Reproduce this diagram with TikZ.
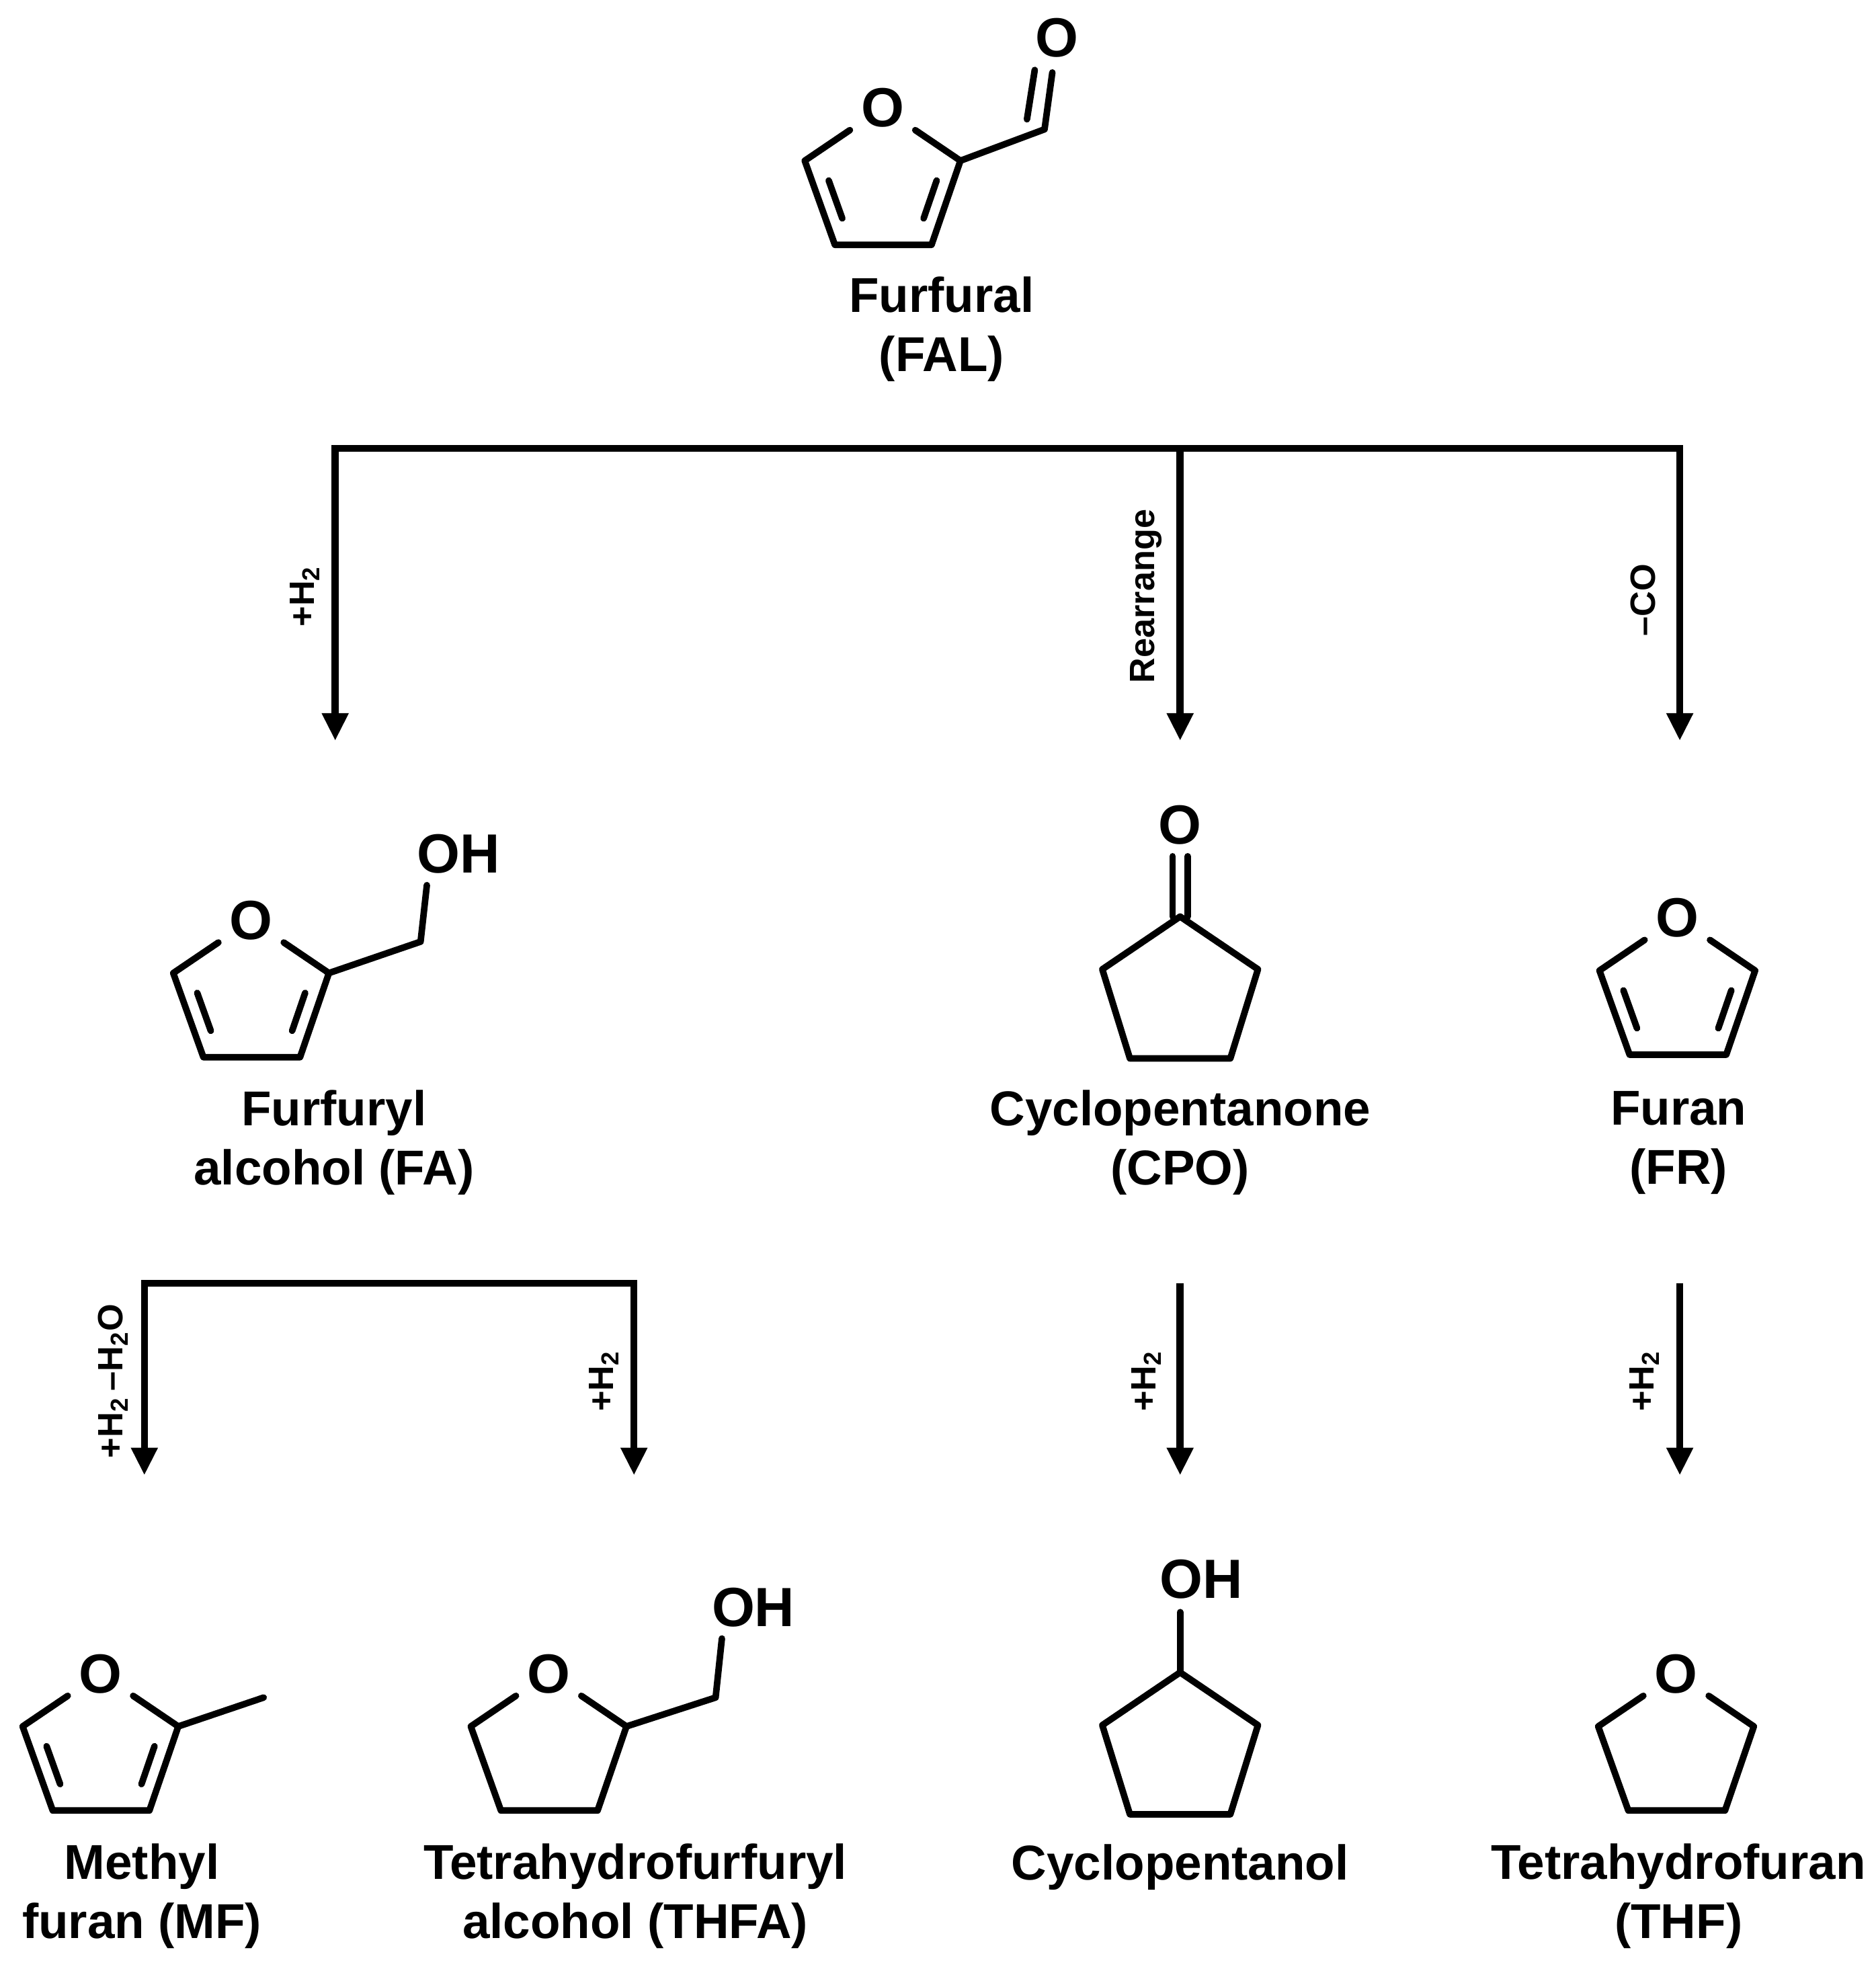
\documentclass[tikz,border=0pt]{standalone}
\usepackage{fontspec}
\setmainfont{Liberation Sans}
\usetikzlibrary{calc,arrows.meta}
\begin{document}
\begin{tikzpicture}[x=0.5pt,y=-0.5pt,
  bond/.style={line width=2.6pt,line join=round,line cap=round},
  path/.style={line width=2.8pt},
  arr/.style={line width=2.8pt,-{Triangle[length=11pt,width=10pt]}},
  lbl/.style={font=\bfseries\fontsize{19.5}{23.5}\selectfont,align=center},
  atom/.style={font=\bfseries\fontsize{22}{24}\selectfont,inner sep=0pt},
  cond/.style={font=\bfseries\fontsize{14}{16}\selectfont,rotate=90,inner sep=0pt}]
\useasboundingbox (0,0) rectangle (1494,1573);
\newcommand{\fring}[3]{%
 \begin{scope}[shift={#2}]
  \node[atom] (#1O) at (0,0) {O};
  \coordinate (#1a) at (62,42); \coordinate (#1b) at (39,109);
  \coordinate (#1c) at (-38,109); \coordinate (#1d) at (-62,42);
  \coordinate (#1m) at (0,65);
  \draw[bond] ($(#1O)!0.42!(#1a)$) -- (#1a) -- (#1b) -- (#1c) -- (#1d) -- ($(#1O)!0.42!(#1d)$);
  \ifnum#3=1
   \draw[bond] ($($(#1a)!0.2!(#1b)$)!0.25!(#1m)$) -- ($($(#1a)!0.8!(#1b)$)!0.25!(#1m)$);
   \draw[bond] ($($(#1d)!0.2!(#1c)$)!0.25!(#1m)$) -- ($($(#1d)!0.8!(#1c)$)!0.25!(#1m)$);
  \fi
 \end{scope}}
\newcommand{\cpring}[2]{%
 \begin{scope}[shift={#2}]
  \coordinate (#1t) at (0,0);
  \draw[bond] (0,0) -- (62,42) -- (40,113) -- (-40,113) -- (-62,42) -- cycle;
 \end{scope}}
% Furfural
\fring{fal}{(703,86)}{1}
\node[atom] (falO2) at (842,30) {O};
\coordinate (falC) at (832,103);
\draw[bond] (fala) -- (falC) -- ($(falC)!0.62!(842,30)$);
\draw[bond] ($(falC)+(-14,-8)$) -- ($($(falC)!0.62!(842,30)$)+(-14,-2)$);
\node[lbl] (fal) at (750,262) {Furfural\\(FAL)};
% tree 1
\coordinate (t1l) at (267,357); \coordinate (t1m) at (940,357); \coordinate (t1r) at (1338,357);
\draw[path,line cap=rect] (t1l) -- (t1r);
\coordinate (e1) at (267,590); \coordinate (e2) at (940,590); \coordinate (e3) at (1338,590);
\draw[arr] (t1l) -- (e1);
\draw[arr] (t1m) -- (e2);
\draw[arr] (t1r) -- (e3);
\node[cond] (c1) at (243,475) {+H$_\mathbf{2}$};
\node[cond] (c2) at (913,475) {Rearrange};
\node[cond] (c3) at (1309,478) {–CO};
% FA
\fring{fa}{(200,733)}{1}
\coordinate (faC) at (335,750);
\node[atom] (faOH) at (365,680) {OH};
\draw[bond] (faa) -- (faC) -- (340,705);
\node[lbl] (fa) at (266,910) {Furfuryl\\alcohol (FA)};
% CPO
\cpring{cpo}{(940,730)}
\node[atom] (cpoO) at (940,657) {O};
\draw[bond] (934,682) -- (934,730); \draw[bond] (946,682) -- (946,730);
\node[lbl] (cpo) at (940,910) {Cyclopentanone\\(CPO)};
% Furan
\fring{fr}{(1336,731)}{1}
\node[lbl] (fr) at (1337,910) {Furan\\(FR)};
% tree 2
\coordinate (t2l) at (115,1022); \coordinate (t2r) at (505,1022);
\draw[path,line cap=rect] (t2l) -- (t2r);
\coordinate (f1) at (115,1175); \coordinate (f2) at (505,1175);
\draw[arr] (t2l) -- (f1); \draw[arr] (t2r) -- (f2);
\node[cond] (d1) at (90,1100) {+H$_\mathbf{2}$\,–H$_\mathbf{2}$O};
\node[cond] (d2) at (481,1100) {+H$_\mathbf{2}$};
\coordinate (g1) at (940,1022); \coordinate (g2) at (940,1175);
\draw[arr] (g1) -- (g2);
\node[cond] (d3) at (913,1100) {+H$_\mathbf{2}$};
\coordinate (h1) at (1338,1022); \coordinate (h2) at (1338,1175);
\draw[arr] (h1) -- (h2);
\node[cond] (d4) at (1310,1100) {+H$_\mathbf{2}$};
% MF
\fring{mf}{(80,1333)}{1}
\coordinate (mfC) at (210,1352);
\draw[bond] (mfa) -- (mfC);
\node[lbl] (mf) at (113,1510) {Methyl\\furan (MF)};
% THFA
\fring{thfa}{(437,1333)}{0}
\coordinate (thfaC) at (570,1352);
\node[atom] (thfaOH) at (600,1280) {OH};
\draw[bond] (thfaa) -- (thfaC) -- (575,1305);
\node[lbl] (thfa) at (506,1510) {Tetrahydrofurfuryl\\alcohol (THFA)};
% Cyclopentanol
\cpring{cpl}{(940,1332)}
\node[atom] (cplOH) at (957,1258) {OH};
\draw[bond] (940,1284) -- (940,1332);
\node[lbl] (cpl) at (940,1487) {Cyclopentanol};
% THF
\fring{thf}{(1335,1333)}{0}
\node[lbl] (thf) at (1337,1510) {Tetrahydrofuran\\(THF)};
\end{tikzpicture}
\end{document}
